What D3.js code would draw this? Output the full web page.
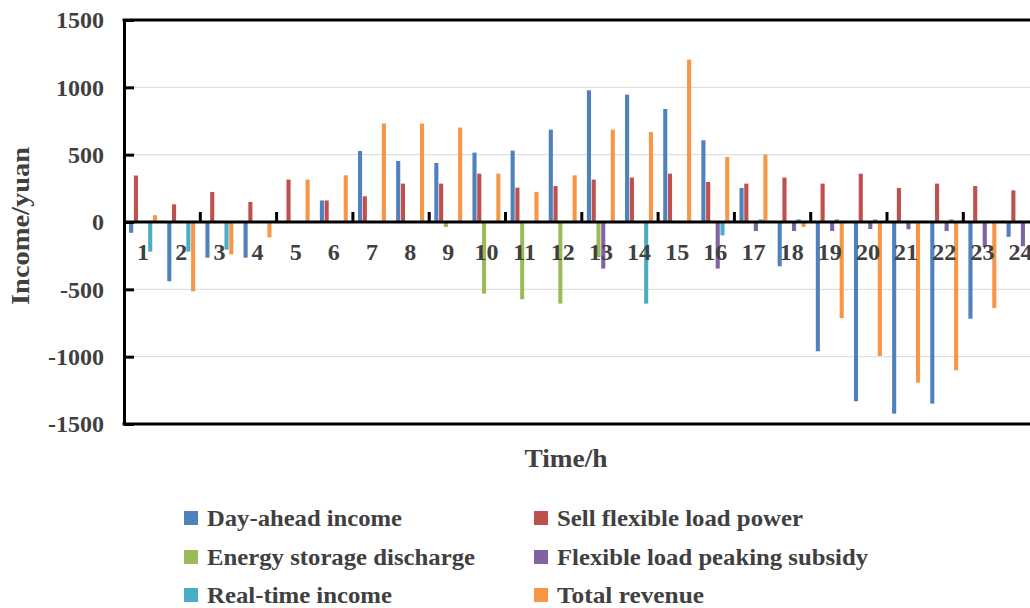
<!DOCTYPE html>
<html>
<head>
<meta charset="utf-8">
<script src="https://cdn.jsdelivr.net/npm/d3@7"></script>
<style>
  html, body { margin: 0; padding: 0; background: #fff; }
  svg { display: block; }
  svg text { font-family: "Liberation Serif", "Times New Roman", Times, serif !important; font-weight: bold; fill: #404040; }
</style>
</head>
<body>
<svg id="chart" width="1030" height="608"></svg>
<script>
// ---- data ----
const hours = ["1","2","3","4","5","6","7","8","9","10","11","12","13","14","15","16","17","18","19","20","21","22","23","24"];
const seriesNames = ["Day-ahead income", "Sell flexible load power", "Energy storage discharge", "Flexible load peaking subsidy", "Real-time income", "Total revenue"];
const seriesColors = ["#4F81BD", "#C0504D", "#9BBB59", "#8064A2", "#4BACC6", "#F79646"];
const dayAhead   = [-80, -440, -265, -265, 0, 160, 527, 453, 438, 515, 530, 686, 978, 946, 839, 607, 253, -329, -960, -1331, -1423, -1349, -718, -110];
const sellFlex   = [345, 131, 223, 149, 315, 160, 191, 285, 285, 359, 255, 267, 315, 330, 359, 297, 285, 330, 285, 359, 253, 285, 267, 235];
const storage    = [0, 0, 0, 0, 0, 0, 0, 0, -37, -532, -574, -606, -260, 0, 0, 0, 0, 0, 0, 0, 0, 0, 0, 0];
const peaking    = [0, 0, 0, 0, 0, 0, 0, 0, 0, 0, 0, 0, -346, 0, 0, -346, -67, -67, -67, -52, -54, -67, -186, -180];
const realTime   = [-220, -220, -205, 0, 0, 0, 0, 0, 0, 0, 0, 0, 0, -606, 0, -99, 20, 20, 20, 20, 0, 20, 0, 0];
const totalRev   = [50, -515, -240, -114, 315, 347, 731, 731, 701, 359, 223, 347, 686, 668, 1206, 483, 500, -37, -713, -995, -1193, -1101, -639, -60];
const yTicks = [-1500, -1000, -500, 0, 500, 1000, 1500];
const seriesValues = [dayAhead, sellFlex, storage, peaking, realTime, totalRev];

// ---- layout ----
const svg = d3.select("#chart");
const plotLeft = 124, plotTop = 20, plotBottom = 424, bandW = 38.15;
const plotRight = plotLeft + bandW * hours.length;
const serif = '"Liberation Serif", "Times New Roman", Times, serif';

const x0 = d3.scaleBand().domain(hours).range([plotLeft, plotRight]).paddingInner(0).paddingOuter(0);
const x1 = d3.scaleBand().domain(seriesNames).range([0, x0.bandwidth()]).paddingInner(0).paddingOuter(1);
const y = d3.scaleLinear().domain([-1500, 1500]).range([plotBottom, plotTop]);

// gridlines
svg.append("g").selectAll("line")
  .data(yTicks.filter(t => t !== 0 && Math.abs(t) !== 1500))
  .join("line")
  .attr("x1", plotLeft).attr("x2", 1030)
  .attr("y1", d => y(d)).attr("y2", d => y(d))
  .attr("stroke", "#d9d9d9").attr("stroke-width", 1);

// bars
const barW = x1.bandwidth() * 0.86;
const groups = svg.append("g").selectAll("g")
  .data(hours)
  .join("g")
  .attr("transform", d => `translate(${x0(d)},0)`);
groups.selectAll("rect")
  .data((h, i) => seriesNames.map((s, k) => ({ s, k, v: seriesValues[k][i] })).filter(d => d.v !== 0))
  .join("rect")
  .attr("x", d => x1(d.s) + (x1.bandwidth() - barW) / 2)
  .attr("width", barW)
  .attr("y", d => y(Math.max(0, d.v)))
  .attr("height", d => Math.abs(y(d.v) - y(0)))
  .attr("fill", d => seriesColors[d.k]);

// frame: top and bottom borders
[1500, -1500].forEach(v => {
  svg.append("line").attr("x1", plotLeft - 1.5).attr("x2", 1030)
    .attr("y1", y(v)).attr("y2", y(v))
    .attr("stroke", "#000").attr("stroke-width", 3);
});

// y axis
const yAxis = d3.axisLeft(y).tickValues(yTicks).tickFormat(d => String(d))
  .tickSizeInner(-10).tickSizeOuter(0).tickPadding(20);
const gy = svg.append("g").attr("transform", `translate(${plotLeft},0)`).call(yAxis)
  .attr("font-family", serif).attr("font-size", 24);
gy.select(".domain").attr("stroke", "#000").attr("stroke-width", 3);
gy.selectAll(".tick line").attr("stroke", "#000").attr("stroke-width", 3);
gy.selectAll(".tick text").attr("fill", "#404040").style("font-size", "24px");

// x axis at zero
const xAxis = d3.axisBottom(x0).tickSize(0).tickPadding(21);
const gx = svg.append("g").attr("transform", `translate(0,${y(0)})`).call(xAxis)
  .attr("font-family", serif).attr("font-size", 24);
gx.select(".domain").remove();
svg.append("line").attr("x1", plotLeft).attr("x2", 1030).attr("y1", y(0)).attr("y2", y(0))
  .attr("stroke", "#000").attr("stroke-width", 3);
gx.selectAll(".tick text").attr("fill", "#404040").style("font-size", "24px");

// category tick marks every 2 categories (pointing up)
svg.append("g").selectAll("line")
  .data(hours.filter((h, i) => i > 0 && i % 2 === 0))
  .join("line")
  .attr("x1", d => x0(d)).attr("x2", d => x0(d))
  .attr("y1", y(0)).attr("y2", y(0) - 10)
  .attr("stroke", "#000").attr("stroke-width", 3);

// axis titles
svg.append("text").attr("x", 566).attr("y", 467).attr("text-anchor", "middle")
  .style("font-size", "26px").attr("textLength", 83).attr("lengthAdjust", "spacingAndGlyphs")
  .text("Time/h");
svg.append("text").attr("transform", "translate(29,226) rotate(-90)").attr("text-anchor", "middle")
  .style("font-size", "26px").attr("textLength", 158).attr("lengthAdjust", "spacingAndGlyphs")
  .text("Income/yuan");

// legend
const legendPos = [
  { x: 184, y: 518, w: 195 }, { x: 534, y: 518, w: 246 },
  { x: 184, y: 557, w: 268 }, { x: 534, y: 557, w: 311 },
  { x: 184, y: 595, w: 185 }, { x: 534, y: 595, w: 147 }
];
const lg = svg.append("g").selectAll("g").data(seriesNames).join("g")
  .attr("transform", (d, i) => `translate(${legendPos[i].x},${legendPos[i].y})`);
lg.append("rect").attr("x", 0).attr("y", -7).attr("width", 14).attr("height", 14)
  .attr("fill", (d, i) => seriesColors[i]);
lg.append("text").attr("x", 23).attr("y", 8)
  .style("font-size", "24px")
  .attr("textLength", (d, i) => legendPos[i].w).attr("lengthAdjust", "spacingAndGlyphs")
  .text(d => d);
</script>
</body>
</html>
